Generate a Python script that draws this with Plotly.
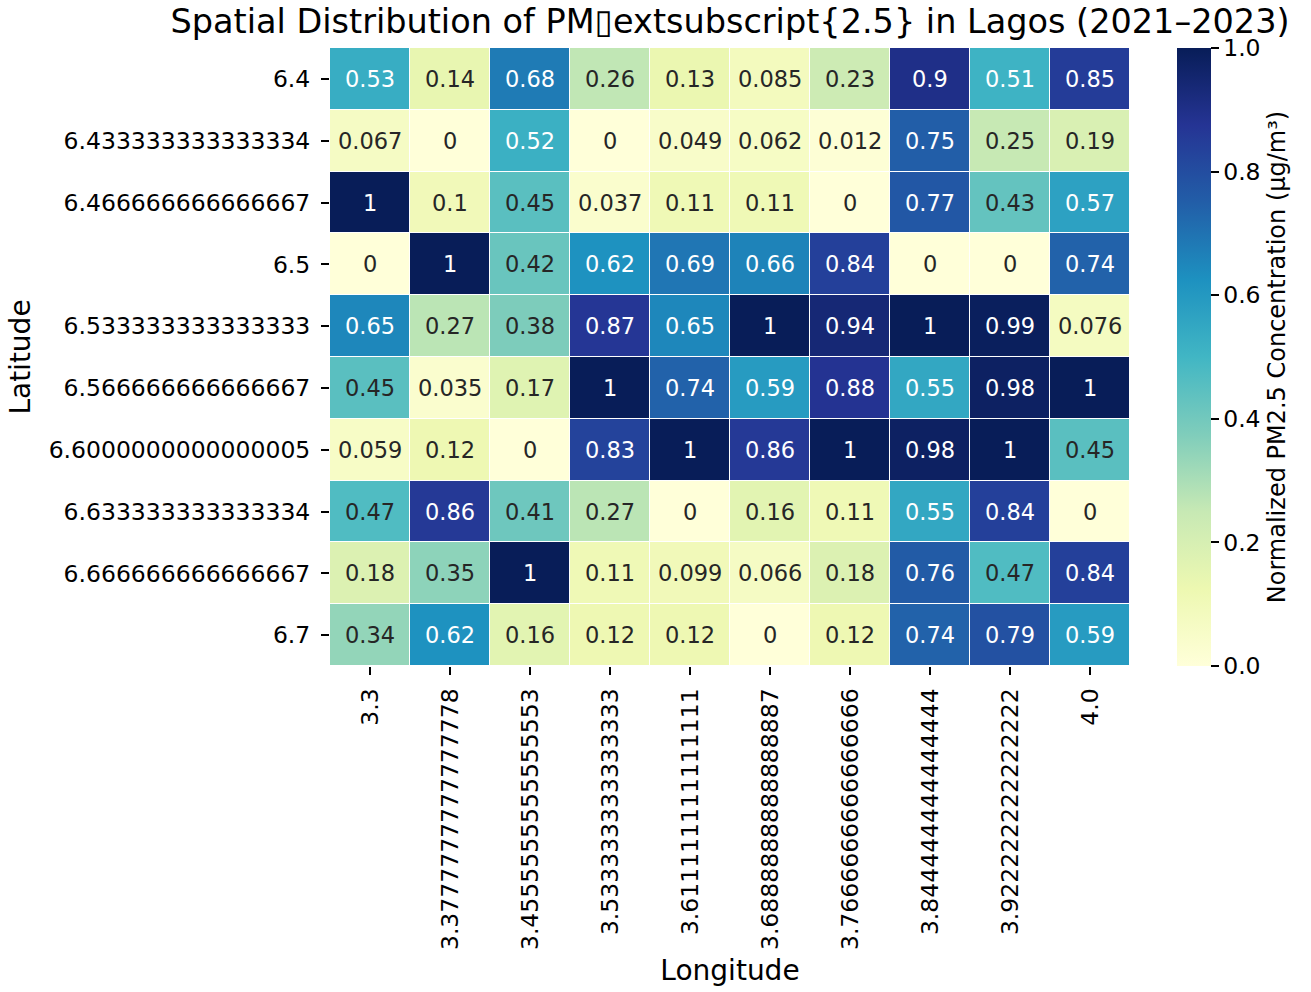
import plotly.graph_objects as go

# ---------------- data ----------------
lat_labels = ["6.4", "6.433333333333334", "6.466666666666667", "6.5",
              "6.533333333333333", "6.566666666666667", "6.6000000000000005",
              "6.633333333333334", "6.666666666666667", "6.7"]
lon_labels = ["3.3", "3.3777777777777778", "3.4555555555555553", "3.533333333333333",
              "3.611111111111111", "3.6888888888888887", "3.7666666666666666",
              "3.844444444444444", "3.922222222222222", "4.0"]

row_6_400 = [0.53, 0.14, 0.68, 0.26, 0.13, 0.085, 0.23, 0.90, 0.51, 0.85]
row_6_433 = [0.067, 0.0, 0.52, 0.0, 0.049, 0.062, 0.012, 0.75, 0.25, 0.19]
row_6_467 = [1.0, 0.10, 0.45, 0.037, 0.11, 0.11, 0.0, 0.77, 0.43, 0.57]
row_6_500 = [0.0, 1.0, 0.42, 0.62, 0.69, 0.66, 0.84, 0.0, 0.0, 0.74]
row_6_533 = [0.65, 0.27, 0.38, 0.87, 0.65, 1.0, 0.94, 1.0, 0.99, 0.076]
row_6_567 = [0.45, 0.035, 0.17, 1.0, 0.74, 0.59, 0.88, 0.55, 0.98, 1.0]
row_6_600 = [0.059, 0.12, 0.0, 0.83, 1.0, 0.86, 1.0, 0.98, 1.0, 0.45]
row_6_633 = [0.47, 0.86, 0.41, 0.27, 0.0, 0.16, 0.11, 0.55, 0.84, 0.0]
row_6_667 = [0.18, 0.35, 1.0, 0.11, 0.099, 0.066, 0.18, 0.76, 0.47, 0.84]
row_6_700 = [0.34, 0.62, 0.16, 0.12, 0.12, 0.0, 0.12, 0.74, 0.79, 0.59]

z = [row_6_400, row_6_433, row_6_467, row_6_500, row_6_533,
     row_6_567, row_6_600, row_6_633, row_6_667, row_6_700]

cbar_tickvals = [0.0, 0.2, 0.4, 0.6, 0.8, 1.0]
cbar_ticktext = ["0.0", "0.2", "0.4", "0.6", "0.8", "1.0"]

title_text = "Spatial Distribution of PM\u25afextsubscript{2.5} in Lagos (2021\u20132023)"

# ---------------- style ----------------
ylgnbu = ["#ffffd9", "#edf8b1", "#c7e9b4", "#7fcdbb", "#41b6c4",
          "#1d91c0", "#225ea8", "#253494", "#081d58"]
colorscale = [[i / (len(ylgnbu) - 1), c] for i, c in enumerate(ylgnbu)]
FONT = "DejaVu Sans"
TICK = 23.5


def hex_rgb(h):
    return [int(h[i:i + 2], 16) / 255 for i in (1, 3, 5)]


def cmap(v):
    v = min(max(v, 0), 1)
    pos = v * (len(ylgnbu) - 1)
    i = min(int(pos), len(ylgnbu) - 2)
    t = pos - i
    a, b = hex_rgb(ylgnbu[i]), hex_rgb(ylgnbu[i + 1])
    return [a[k] + (b[k] - a[k]) * t for k in range(3)]


def luminance(rgb):
    lin = [c / 12.92 if c <= 0.03928 else ((c + 0.055) / 1.055) ** 2.4 for c in rgb]
    return 0.2126 * lin[0] + 0.7152 * lin[1] + 0.0722 * lin[2]


fig = go.Figure()
fig.add_trace(go.Heatmap(
    z=z, x=lon_labels, y=lat_labels,
    colorscale=colorscale, zmin=0, zmax=1,
    xgap=1, ygap=1,
    colorbar=dict(
        x=1 + 47 / 800, xanchor="left", xpad=0, ypad=0,
        y=0.5, yanchor="middle", len=1, lenmode="fraction",
        thickness=34, thicknessmode="pixels", outlinewidth=0,
        tickvals=cbar_tickvals, ticktext=cbar_ticktext,
        ticks="outside", ticklen=8, tickwidth=2, tickcolor="black",
        tickfont=dict(family=FONT, size=TICK, color="black"),
        title=dict(text="Normalized PM2.5 Concentration (μg/m³)", side="right",
                   font=dict(family=FONT, size=24, color="black")),
    ),
    hoverinfo="skip",
))

annotations = []
for r in range(len(lat_labels)):
    for c in range(len(lon_labels)):
        v = z[r][c]
        col = "#262626" if luminance(cmap(v)) > 0.408 else "white"
        annotations.append(dict(
            x=c, y=r, xref="x", yref="y", text=format(v, ".2g"),
            showarrow=False, font=dict(family=FONT, size=22.5, color=col)))

fig.update_layout(
    width=1311, height=992,
    margin=dict(l=330, r=181, t=48, b=326, autoexpand=False),
    paper_bgcolor="white", plot_bgcolor="white",
    font=dict(family=FONT, color="black"),
    title=dict(text=title_text, x=0.5, xref="paper", xanchor="center",
               y=1 - 21 / 992, yref="container", yanchor="middle",
               font=dict(family=FONT, size=33.5, color="black")),
    annotations=annotations,
    xaxis=dict(type="category", tickangle=-90, ticks="outside", ticklen=8,
               tickwidth=2, tickcolor="black", showgrid=False, zeroline=False,
               showline=False, ticklabelstandoff=4, automargin=False,
               tickfont=dict(family=FONT, size=TICK, color="black"),
               title=dict(text="Longitude", font=dict(family=FONT, size=28, color="black"),
                          standoff=11)),
    yaxis=dict(type="category", autorange="reversed", ticks="outside", ticklen=8,
               tickwidth=2, tickcolor="black", showgrid=False, zeroline=False,
               showline=False, ticklabelstandoff=6, automargin=False,
               tickfont=dict(family=FONT, size=TICK, color="black"),
               title=dict(text="Latitude", font=dict(family=FONT, size=28, color="black"),
                          standoff=9)),
)

fig.write_html("out.html")
